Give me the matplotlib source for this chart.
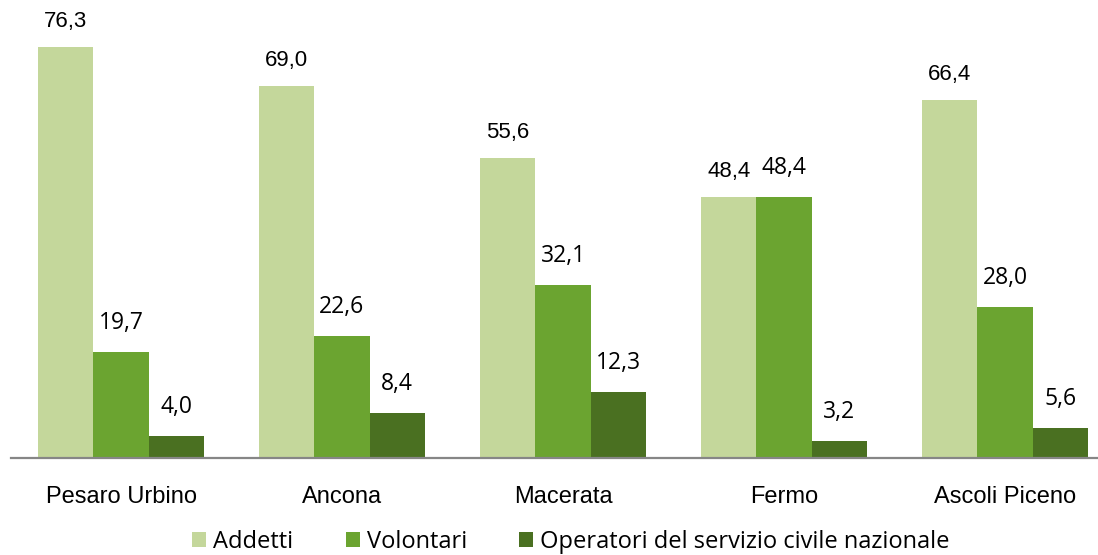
import matplotlib
matplotlib.use("Agg")
import matplotlib.pyplot as plt
import numpy as np

provinces = ["Pesaro Urbino", "Ancona", "Macerata", "Fermo", "Ascoli Piceno"]
series_names = ["Addetti", "Volontari", "Operatori del servizio civile nazionale"]
addetti = [76.3, 69.0, 55.6, 48.4, 66.4]
volontari = [19.7, 22.6, 32.1, 48.4, 28.0]
operatori = [4.0, 8.4, 12.3, 3.2, 5.6]

colors = ["#C4D79B", "#6BA430", "#4A7021"]

W, H = 1098, 555
fig = plt.figure(figsize=(W / 100, H / 100), dpi=100)

# axes in pixel terms: left edge 10.5px, category width 221px, baseline at 458px
left = 10.5 / W
width = 221 * 5 / W
bottom = (H - 458) / H
ax = fig.add_axes([left, bottom, width, 1 - bottom])
ax.set_xlim(-0.5, 4.5)
ax.set_ylim(0, 458 / 5.39)

x = np.arange(len(provinces))
bw = 0.25
all_series = [addetti, volontari, operatori]
for i, (vals, name, col) in enumerate(zip(all_series, series_names, colors)):
    pos = x + (i - 1) * bw
    ax.bar(pos, vals, width=bw, color=col, label=name, zorder=2)
    for p, v in zip(pos, vals):
        txt = f"{v:.1f}".replace(".", ",")
        if i == 0:
            ax.annotate(txt, (p, v), xytext=(0, 18.5), textcoords="offset points",
                        ha="center", va="center", fontsize=16,
                        family="Liberation Sans")
        else:
            ax.annotate(txt, (p, v), xytext=(0, 21), textcoords="offset points",
                        ha="center", va="center", fontsize=16.5,
                        family="Open Sans")

for s in ["top", "right", "left"]:
    ax.spines[s].set_visible(False)
ax.spines["bottom"].set_color("#868686")
ax.spines["bottom"].set_linewidth(1.6)
ax.set_yticks([])
ax.set_xticks(x)
ax.set_xticklabels(provinces, fontsize=17, family="Liberation Sans")
ax.tick_params(axis="x", length=0, pad=20)
ax.patch.set_visible(False)

fig.legend(loc="center", bbox_to_anchor=(0.52, 1 - 542 / H), ncol=3,
           frameon=False, prop={"family": "Open Sans", "size": 17},
           handlelength=0.6, handleheight=0.6, handletextpad=0.3,
           columnspacing=2.2, borderaxespad=0)

fig.savefig("out.png", dpi=100)
